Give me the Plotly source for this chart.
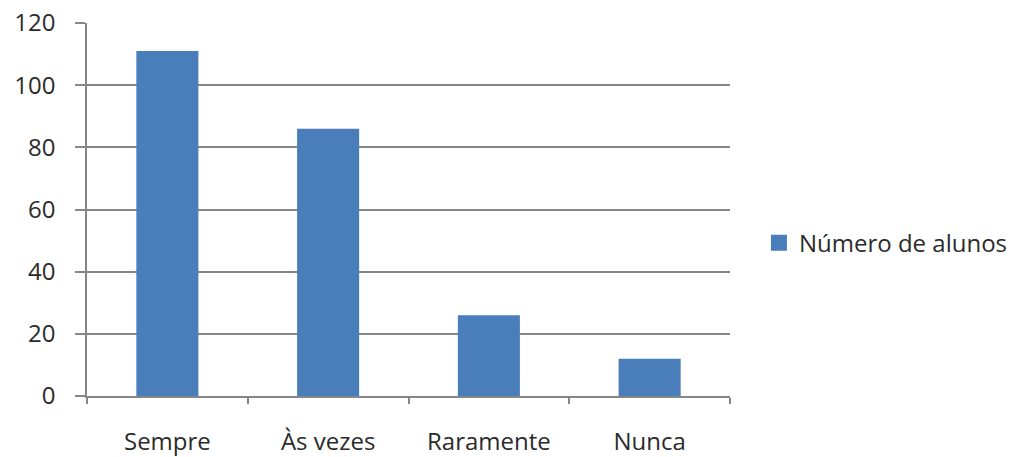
import plotly.graph_objects as go

categories = ["Sempre", "Às vezes", "Raramente", "Nunca"]
values = [111, 86, 26, 12]
series_name = "Número de alunos"
y_ticks = [0, 20, 40, 60, 80, 100, 120]

bar_color = "#4A7EBB"
grid_color = "#868686"
text_color = "#2B2B2B"
font_family = "Open Sans, DejaVu Sans, sans-serif"

fig = go.Figure()
fig.add_trace(go.Bar(
    x=categories, y=values, name=series_name,
    marker=dict(color=bar_color, line=dict(width=0)),
    showlegend=False,
))
# legend entry (larger square swatch, as in the reference)
fig.add_trace(go.Scatter(
    x=[None], y=[None], mode="markers", name=series_name,
    marker=dict(symbol="square", size=17, color=bar_color),
    showlegend=True,
))

fig.update_layout(
    width=1026, height=457,
    margin=dict(l=87, r=296, t=23, b=61),
    paper_bgcolor="white", plot_bgcolor="white",
    bargap=0.614,
    font=dict(family=font_family, size=24, color=text_color),
    showlegend=True,
    legend=dict(x=1.045, y=0.41, xanchor="left", yanchor="middle",
                font=dict(size=24, color=text_color), itemwidth=30,
                borderwidth=0),
    xaxis=dict(
        automargin=False,
        showline=True, linecolor=grid_color, linewidth=1.5,
        ticks="outside", tickson="boundaries", ticklen=6,
        tickcolor=grid_color, tickwidth=1.5,
        showgrid=False, ticklabelstandoff=23,
        tickfont=dict(size=24, color=text_color),
    ),
    yaxis=dict(
        automargin=False,
        range=[0, 120], tickvals=y_ticks,
        showline=True, linecolor=grid_color, linewidth=1.5,
        ticks="outside", ticklen=10, tickcolor=grid_color, tickwidth=1.5,
        showgrid=True, gridcolor=grid_color, gridwidth=1.5,
        zeroline=False, ticklabelstandoff=15,
        tickfont=dict(size=24, color=text_color),
    ),
)

fig.write_html("out.html",
               config={"displayModeBar": False},
               post_script="document.body.style.margin='0';document.body.style.overflow='hidden';")
